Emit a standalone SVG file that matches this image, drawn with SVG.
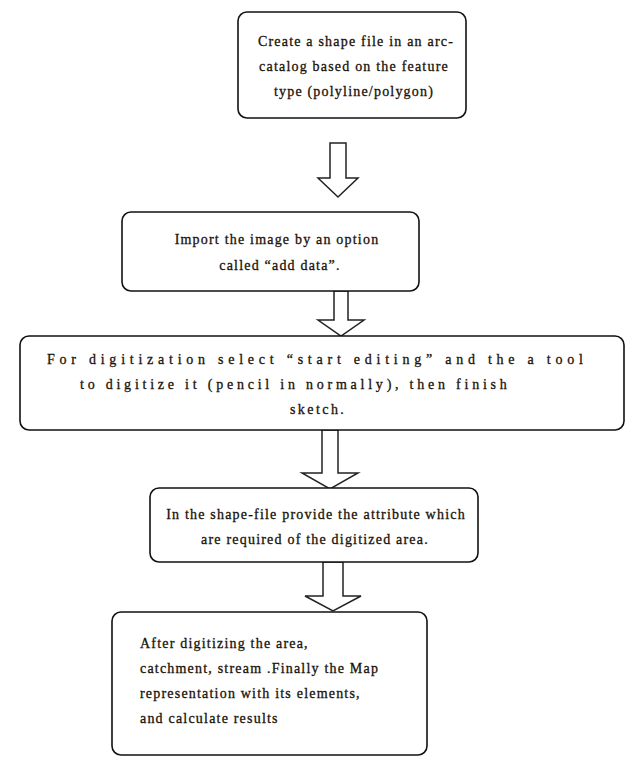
<svg xmlns="http://www.w3.org/2000/svg" width="632" height="761" viewBox="0 0 632 761">
<style>
.box{fill:#fff;stroke:#111;stroke-width:1.6}
.arr{fill:#fff;stroke:#222;stroke-width:1.5;stroke-linejoin:miter}
.t{font-family:"Liberation Serif","Times New Roman",serif;font-size:14px;letter-spacing:1.2px;fill:#1a1208;stroke:#1a1208;stroke-width:0.3}
.c{text-anchor:middle}
</style>
<rect width="632" height="761" fill="#fff"/>
<g id="connectors">
<path class="arr" d="M330,143 H346 V178 H358 L338,197 L318,178 H330 Z"/>
<path class="arr" d="M334,291 H348 V320 H364 L341,336 L318,320 H334 Z"/>
<path class="arr" d="M322,430 H338 V473 H358 L330,489 L302,473 H322 Z"/>
<path class="arr" d="M323,562 H343 V596 H361 L333,611 L305,596 H323 Z"/>
</g>
<g id="n1">
<rect class="box" x="238" y="12" width="228" height="106" rx="9"/>
<text class="t c" x="356" y="46">Create a shape file in an arc-</text>
<text class="t c" x="354" y="71">catalog based on the feature</text>
<text class="t c" x="354" y="96">type (polyline/polygon)</text>
</g>
<g id="n2">
<rect class="box" x="122" y="212" width="297" height="79" rx="9"/>
<text class="t c" x="277" y="244">Import the image by an option</text>
<text class="t c" x="280" y="270">called “add data”.</text>
</g>
<g id="n3">
<rect class="box" x="20" y="336" width="604" height="94" rx="9"/>
<text class="t" x="47" y="364" textLength="537">For digitization select “start editing” and the a tool</text>
<text class="t" x="80" y="389" textLength="428">to digitize it (pencil in normally), then finish</text>
<text class="t" x="290" y="414" textLength="55">sketch.</text>
</g>
<g id="n4">
<rect class="box" x="150" y="488" width="328" height="74" rx="9"/>
<text class="t c" x="316" y="519">In the shape-file provide the attribute which</text>
<text class="t c" x="315" y="544">are required of the digitized area.</text>
</g>
<g id="n5">
<rect class="box" x="112" y="612" width="315" height="143" rx="9"/>
<text class="t" x="140" y="648">After digitizing the area,</text>
<text class="t" x="140" y="673">catchment, stream .Finally the Map</text>
<text class="t" x="140" y="698">representation with its elements,</text>
<text class="t" x="140" y="723">and calculate results</text>
</g>
</svg>
